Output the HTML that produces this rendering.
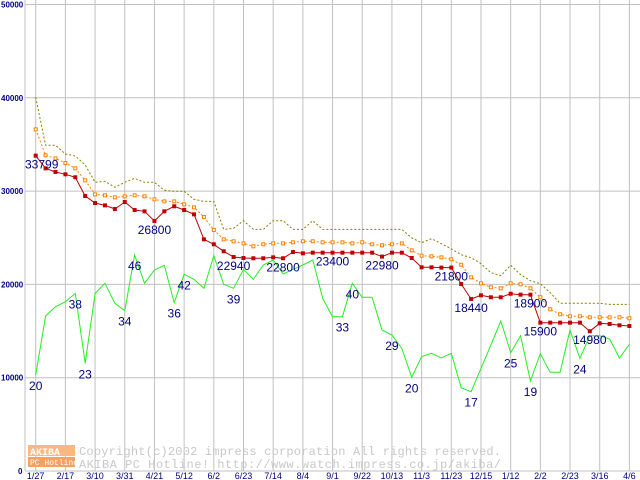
<!DOCTYPE html>
<html><head><meta charset="utf-8"><style>
html,body{margin:0;padding:0;background:#fff;}
svg{display:block;font-family:"Liberation Sans",sans-serif;}
</style></head><body>
<svg id="chart" width="640" height="480" viewBox="0 0 640 480" xmlns="http://www.w3.org/2000/svg">
<g id="grid"></g>
<g id="watermark">
<rect x="28" y="445" width="47" height="11" fill="#f8b880"/>
<rect x="28" y="457" width="47" height="10" fill="#f8a060"/>
<text x="30" y="455" font-size="10" fill="#fff" font-family="Liberation Mono, monospace" font-weight="bold">AKIBA</text>
<text x="30" y="465" font-size="8" fill="#fff" font-family="Liberation Mono, monospace">PC Hotline</text>
<text x="79" y="455" font-size="12" fill="#c8c8c8" font-family="Liberation Mono, monospace" textLength="422">Copyright(c)2002 impress corporation All rights reserved.</text>
<text x="79" y="468" font-size="12" fill="#c8c8c8" font-family="Liberation Mono, monospace" textLength="422">AKIBA PC Hotline!  http://www.watch.impress.co.jp/akiba/</text>
</g>
<g id="series"></g>
<g id="labels"></g>
</svg>
<script>
const xTickLabels = ["1/27","2/17","3/10","3/31","4/21","5/12","6/2","6/23","7/14","8/4","9/1","9/22","10/13","11/3","11/23","12/15","1/12","2/2","2/23","3/16","4/6"];
const yTicks = [0,10000,20000,30000,40000,50000];
const minPrice = [33799,32440,32050,31800,31480,29470,28720,28470,28080,28830,27970,27830,26800,27830,28370,27970,27510,24830,24300,23550,22940,22830,22800,22800,22900,22800,23470,23330,23400,23400,23400,23400,23400,23400,23400,22980,23400,23400,22830,21830,21830,21800,21800,20040,18440,18830,18620,18620,19000,18900,18900,15900,15900,15900,15900,15900,14980,15830,15760,15620,15540];
const avgPrice = [36620,33840,33510,33010,32440,31150,29650,29550,29330,29440,29550,29440,29120,28900,28900,28580,28260,27220,25830,24830,24620,24400,24080,24300,24400,24400,24510,24620,24620,24510,24510,24510,24400,24510,24300,24190,24300,24400,23650,23080,23010,22900,22690,22110,20760,20120,19690,19580,20120,20010,19580,18620,17330,16800,16580,16580,16470,16470,16470,16470,16370];
const maxPrice = [40050,34910,34910,33980,33760,32800,30940,31050,30410,30940,31370,30940,30940,30090,29980,29980,29120,28900,28900,25900,26010,26830,25900,25900,26830,26830,25900,25900,26830,25900,25900,25900,25900,25900,25900,25900,25900,25900,25000,24470,24900,24360,23820,23180,22860,22220,21250,20930,22050,21040,20400,20080,19110,17970,17970,17970,17970,17970,17860,17860,17860];
const shopCount = [10290,16610,17610,18150,19040,11540,19040,20120,17970,17180,23150,20120,21540,22050,18040,21080,20550,19580,23080,20010,19580,21610,20550,22080,22610,21110,21610,22080,22610,18510,16540,16540,20120,18620,18620,15110,14580,13150,10040,12250,12610,12110,12610,8930,8500,11010,13500,16080,12680,14500,9650,12570,10580,10580,15110,12080,14500,14500,14150,12110,13580];
const priceLabelIdx = [0,12,20,25,30,35,42,44,50,51,56];
const priceLabelText = ["33799","26800","22940","22800","23400","22980","21800","18440","18900","15900","14980"];
const countLabelIdx = [0,4,5,9,10,14,15,20,31,32,36,38,44,48,50,55];
const countLabelText = ["20","38","23","34","46","36","42","39","33","40","29","20","17","25","19","24"];

const NS="http://www.w3.org/2000/svg";
const x0=35.7, x1=629.4, yBase=471, yPer=93.3/10000;
const nPts = minPrice.length;
function xScale(i){return x0+(x1-x0)*i/(nPts-1);}
function yScale(v){return yBase-v*yPer;}
function mk(tag,attrs,parent){const e=document.createElementNS(NS,tag);for(const k in attrs)e.setAttribute(k,attrs[k]);parent.appendChild(e);return e;}
const grid=document.getElementById('grid'), ser=document.getElementById('series'), lab=document.getElementById('labels');

yTicks.forEach(v=>{
  const y=yScale(v);
  const l=mk('line',{x1:25,x2:640,y1:y,y2:y,stroke:'#c0c0c0','stroke-width':1},grid);
  
  
  const t=mk('text',{x:v===0?18:1,y:y+3,'font-size':8,fill:'#000080','font-weight':'bold'},grid);
  
  
  t.textContent=v===0?'0':String(v);
});
const vAxis=mk('line',{x1:25,x2:25,y1:0,y2:471,stroke:'#c0c0c0'},grid);


xTickLabels.forEach((s,k)=>{
  const x=x0+(x1-x0)*k/(xTickLabels.length-1);
  const l=mk('line',{x1:x,x2:x,y1:0,y2:471,stroke:'#c0c0c0'},grid);
  
  
  const t=mk('text',{x:x,y:479,'font-size':9,fill:'#000080','text-anchor':'middle'},grid);
  
  
  t.textContent=s;
});

function pts(arr){return arr.map((v,i)=>xScale(i).toFixed(1)+','+yScale(v).toFixed(1)).join(' ');}
const lMax=mk('polyline',{points:pts(maxPrice),fill:'none',stroke:'#808000','stroke-width':1,'stroke-dasharray':'2,2'},ser);


const lCnt=mk('polyline',{points:pts(shopCount),fill:'none',stroke:'#22ee22','stroke-width':1},ser);


const lAvg=mk('polyline',{points:pts(avgPrice),fill:'none',stroke:'#ff8000','stroke-width':1,'stroke-dasharray':'2,2'},ser);


avgPrice.forEach((v,i)=>{
  const r=mk('rect',{x:xScale(i)-1.5,y:yScale(v)-1.5,width:3,height:3,fill:'#fff',stroke:'#ff8000','stroke-width':1},ser);
  
  
});
const lMin=mk('polyline',{points:pts(minPrice),fill:'none',stroke:'#c00000','stroke-width':1},ser);


minPrice.forEach((v,i)=>{
  const r=mk('rect',{x:xScale(i)-2,y:yScale(v)-2,width:4,height:4,fill:'#c00000'},ser);
  
  
});
priceLabelIdx.forEach((i,k)=>{
  const t=mk('text',{x:xScale(i)+(i===0?6:0),y:yScale(minPrice[i])+13,'font-size':12,fill:'#000080','text-anchor':'middle'},lab);
  
  
  t.textContent=priceLabelText[k];
});
countLabelIdx.forEach((i,k)=>{
  const t=mk('text',{x:xScale(i),y:yScale(shopCount[i])+15,'font-size':12,fill:'#000080','text-anchor':'middle'},lab);
  
  
  t.textContent=countLabelText[k];
});
</script>
</body></html>
